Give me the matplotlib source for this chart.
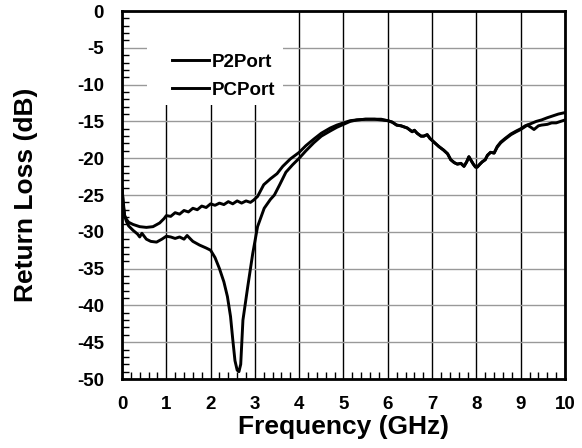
import matplotlib
matplotlib.use('Agg')
import matplotlib.pyplot as plt
from matplotlib.patches import Rectangle
from matplotlib.ticker import MultipleLocator

plt.rcParams['font.family'] = ['Liberation Sans', 'DejaVu Sans']
plt.rcParams['font.weight'] = 'bold'
plt.rcParams['axes.unicode_minus'] = False

# P2Port (upper curve at low frequency)
p2_freq = [0, 0.03, 0.06, 0.1, 0.15, 0.25, 0.4, 0.55, 0.7, 0.85, 0.95, 1.0, 1.1, 1.2, 1.3,
           1.4, 1.5, 1.6, 1.7, 1.8, 1.9, 2.0, 2.1, 2.2, 2.3, 2.4, 2.5, 2.6, 2.7, 2.8, 2.9,
           2.97, 3.06, 3.2, 3.35, 3.5, 3.63, 3.8, 4.0, 4.15, 4.33, 4.5, 4.7, 4.85, 5.0, 5.15,
           5.3, 5.5, 5.7, 5.85, 6.0, 6.1, 6.2, 6.3, 6.44, 6.55, 6.6, 6.66, 6.75, 6.81, 6.89,
           6.95, 7.04, 7.15, 7.26, 7.35, 7.42, 7.5, 7.57, 7.65, 7.72, 7.78, 7.83, 7.88, 7.93,
           7.98, 8.02, 8.08, 8.13, 8.2, 8.25, 8.32, 8.4, 8.47, 8.55, 8.65, 8.78, 8.9, 9.0,
           9.1, 9.23, 9.35, 9.47, 9.6, 9.7, 9.85, 10.0]
p2_loss = [-24.0, -26.5, -27.8, -28.3, -28.7, -29.0, -29.3, -29.4, -29.3, -28.8, -28.2, -27.8,
           -27.9, -27.4, -27.6, -27.1, -27.3, -26.8, -27.0, -26.5, -26.7, -26.2, -26.4, -26.1,
           -26.3, -25.9, -26.2, -25.8, -26.1, -25.8, -26.0, -25.7, -25.2, -23.6, -22.8, -22.1,
           -21.1, -20.1, -19.2, -18.3, -17.4, -16.6, -15.9, -15.5, -15.2, -14.9, -14.8, -14.7,
           -14.7, -14.7, -14.9, -15.1, -15.5, -15.6, -15.9, -16.4, -16.2, -16.6, -17.0, -17.0,
           -16.8, -17.3, -17.8, -18.4, -18.9, -19.4, -20.2, -20.6, -20.8, -20.7, -21.1, -20.5,
           -19.8, -20.3, -20.8, -21.2, -21.2, -20.8, -20.5, -20.2, -19.6, -19.2, -19.3, -18.4,
           -17.8, -17.3, -16.7, -16.3, -16.0, -15.6, -15.3, -15.0, -14.8, -14.5, -14.3, -14.0,
           -13.8]

# PCPort (deep notch near 2.6 GHz)
pc_freq = [0, 0.03, 0.06, 0.1, 0.15, 0.25, 0.35, 0.4, 0.45, 0.55, 0.65, 0.78, 0.9, 1.0, 1.1,
           1.2, 1.3, 1.4, 1.47, 1.55, 1.6, 1.75, 1.9, 2.0, 2.1, 2.2, 2.3, 2.38, 2.45, 2.5,
           2.55, 2.6, 2.64, 2.68, 2.73, 2.84, 2.95, 3.06, 3.21, 3.35, 3.44, 3.56, 3.7, 3.85,
           4.0, 4.15, 4.33, 4.5, 4.7, 4.85, 5.0, 5.15, 5.3, 5.5, 5.7, 5.85, 6.0, 6.1, 6.2, 6.3,
           6.44, 6.55, 6.6, 6.66, 6.75, 6.81, 6.89, 6.95, 7.04, 7.15, 7.26, 7.35, 7.42, 7.5,
           7.57, 7.65, 7.72, 7.78, 7.83, 7.88, 7.93, 7.98, 8.02, 8.08, 8.13, 8.2, 8.25, 8.32,
           8.4, 8.47, 8.55, 8.65, 8.78, 8.9, 9.0, 9.1, 9.15, 9.23, 9.3, 9.4, 9.47, 9.6, 9.7,
           9.8, 9.9, 10.0]
pc_loss = [-24.0, -26.0, -27.8, -28.6, -29.2, -29.8, -30.3, -30.7, -30.2, -31.0, -31.3, -31.4,
           -31.0, -30.6, -30.7, -30.9, -30.7, -31.0, -30.5, -31.0, -31.3, -31.8, -32.2, -32.5,
           -33.5, -35.0, -36.8, -38.8, -41.5, -44.6, -47.5, -48.8, -49.0, -48.0, -42.0, -37.4,
           -33.0, -29.3, -26.8, -25.6, -25.0, -23.6, -21.9, -20.9, -20.0, -19.0, -17.9, -17.0,
           -16.3, -15.8, -15.4, -15.0, -14.8, -14.7, -14.7, -14.8, -14.9, -15.1, -15.5, -15.6,
           -15.9, -16.4, -16.2, -16.6, -17.0, -17.0, -16.8, -17.3, -17.8, -18.4, -18.9, -19.4,
           -20.2, -20.6, -20.8, -20.7, -21.1, -20.5, -19.8, -20.3, -20.8, -21.2, -21.2, -20.8,
           -20.5, -20.2, -19.6, -19.2, -19.3, -18.5, -17.9, -17.4, -16.8, -16.4, -16.1, -15.7,
           -15.5, -15.8, -16.1, -15.6, -15.5, -15.4, -15.2, -15.2, -15.0, -14.8]

fig = plt.figure(figsize=(5.82, 4.48), dpi=100)
ax = fig.add_axes([0.2096, 0.154, 0.7612, 0.8214])

ax.set_axisbelow(True)
ax.xaxis.grid(True, which='major', color='black', linewidth=1.0)
ax.yaxis.grid(True, which='major', color='#999999', linewidth=1.0)

# white area behind the legend hides the grid
ax.add_patch(Rectangle((0.056, 0.745), 0.307, 0.252, transform=ax.transAxes,
                       facecolor='white', edgecolor='none', zorder=1))

ax.plot(p2_freq, p2_loss, color='black', linewidth=2.1, label='P2Port', zorder=3)
ax.plot(pc_freq, pc_loss, color='black', linewidth=2.1, label='PCPort', zorder=3)

ax.set_xlim(0, 10)
ax.set_ylim(-50, 0)
ax.xaxis.set_major_locator(MultipleLocator(1))
ax.xaxis.set_minor_locator(MultipleLocator(0.2))
ax.yaxis.set_major_locator(MultipleLocator(5))
ax.yaxis.set_minor_locator(MultipleLocator(1))
ax.tick_params(which='major', length=0, labelsize=13.5)
ax.tick_params(axis='x', which='major', pad=12)
ax.tick_params(axis='y', which='major', pad=13)
ax.tick_params(which='minor', direction='in', length=5, width=1.0)

for s in ax.spines.values():
    s.set_linewidth(2.0)

ax.set_xlabel('Frequency (GHz)', fontsize=19, fontweight='bold', labelpad=2)
ax.set_ylabel('Return Loss (dB)', fontsize=19, fontweight='bold', labelpad=28)

leg = ax.legend(loc='upper left', bbox_to_anchor=(0.095, 0.905), frameon=False,
                fontsize=13.5, handlelength=2.0, handletextpad=0.15, labelspacing=0.6,
                borderaxespad=0)
leg.set_zorder(4)

fig.savefig('out.png', dpi=100)
